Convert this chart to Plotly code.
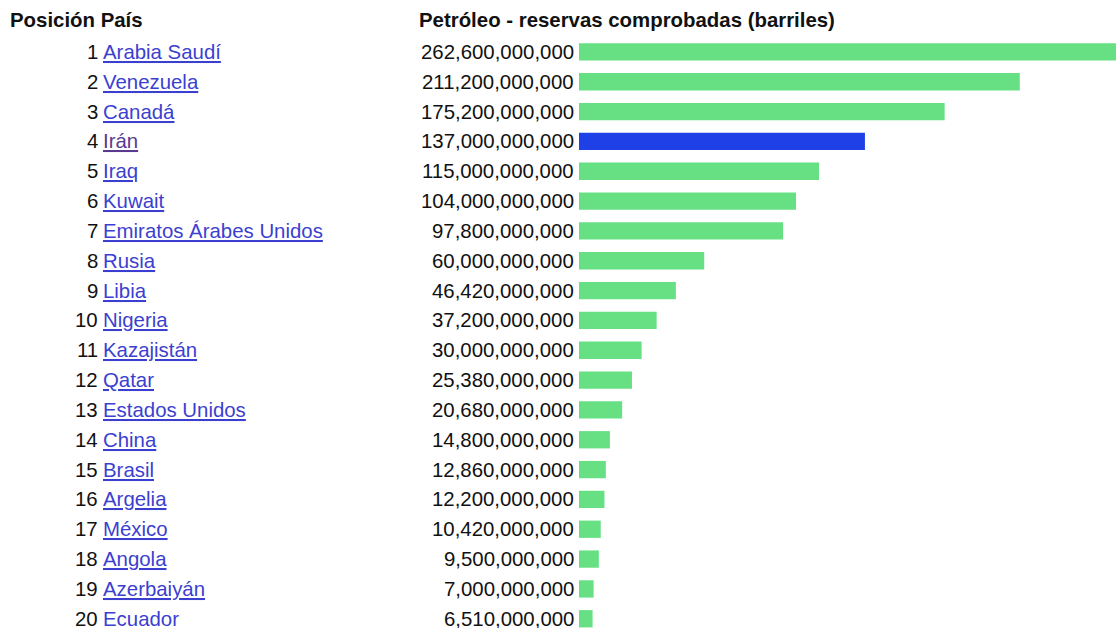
import plotly.graph_objects as go

ranks = list(range(1, 21))
countries = ["Arabia Saudí", "Venezuela", "Canadá", "Irán", "Iraq", "Kuwait",
             "Emiratos Árabes Unidos", "Rusia", "Libia", "Nigeria", "Kazajistán",
             "Qatar", "Estados Unidos", "China", "Brasil", "Argelia", "México",
             "Angola", "Azerbaiyán", "Ecuador"]
reserves = [262600000000, 211200000000, 175200000000, 137000000000, 115000000000,
            104000000000, 97800000000, 60000000000, 46420000000, 37200000000,
            30000000000, 25380000000, 20680000000, 14800000000, 12860000000,
            12200000000, 10420000000, 9500000000, 7000000000, 6510000000]
highlight = "Irán"

W, H = 1116, 628
GREEN = "#67e084"
BLUE = "#1f40e6"
LINK = "#3b3fd0"
VISITED = "#5a3a8e"
TXT = "#111111"
FONT = "Liberation Sans, Arial, Helvetica, sans-serif"
FS = 20.4

pos = list(range(len(countries)))
colors = [BLUE if c == highlight else GREEN for c in countries]

fig = go.Figure(go.Bar(
    x=reserves, y=pos, orientation="h",
    marker=dict(color=colors, line=dict(width=0)),
    width=0.58, hoverinfo="skip"))

bar_left = 579
top = 37
plot_h = H - top
fig.update_layout(
    width=W, height=H,
    margin=dict(l=0, r=0, t=top, b=0),
    paper_bgcolor="white", plot_bgcolor="white",
    showlegend=False,
    xaxis=dict(domain=[bar_left / W, 1], range=[0, 257.3e9],
               visible=False, fixedrange=True),
    yaxis=dict(range=[19.31, -0.5], visible=False, fixedrange=True),
    font=dict(family=FONT, size=FS, color=TXT),
)

head_y = 1 + (top - 20) / plot_h
ann = []
ann.append(dict(x=8 / W, y=head_y, xref="paper", yref="paper", yanchor="middle",
                text="<b>Posición País</b>", xanchor="left", showarrow=False,
                font=dict(size=FS, color=TXT)))
ann.append(dict(x=417 / W, y=head_y, xref="paper", yref="paper", yanchor="middle",
                text="<b>Petróleo - reservas comprobadas (barriles)</b>",
                xanchor="left", showarrow=False, font=dict(size=FS, color=TXT)))
for i, (r, c, v) in enumerate(zip(ranks, countries, reserves)):
    ann.append(dict(x=100 / W, y=i, xref="paper", yref="y", text=str(r),
                    xanchor="right", showarrow=False,
                    font=dict(size=FS, color=TXT)))
    ann.append(dict(x=101 / W, y=i, xref="paper", yref="y", text="<u>" + c + "</u>",
                    xanchor="left", showarrow=False,
                    font=dict(size=FS, color=VISITED if c == highlight else LINK)))
    ann.append(dict(x=576 / W, y=i, xref="paper", yref="y", text=f"{v:,}",
                    xanchor="right", showarrow=False,
                    font=dict(size=FS, color=TXT)))

fig.update_layout(annotations=ann)
fig.write_html("out.html",
               config={"displayModeBar": False, "staticPlot": True},
               post_script="document.body.style.margin='0';"
                           "document.body.style.overflow='hidden';")
